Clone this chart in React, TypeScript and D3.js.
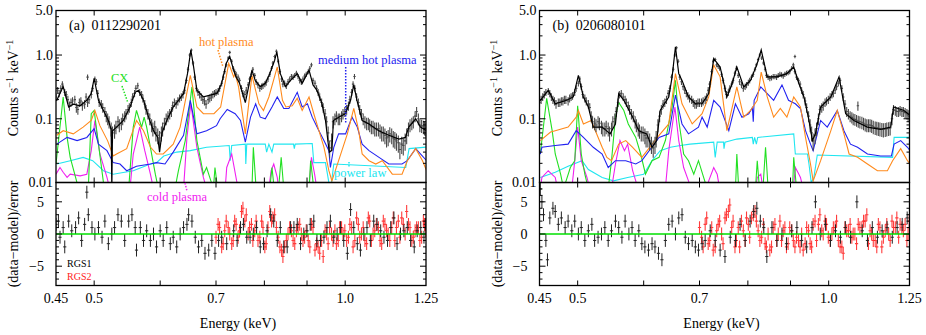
import React, { useEffect, useRef } from 'react';
import * as d3 from 'd3';

// RGS energy grid (keV) used for the binned spectra
const gridEnergy = [
  0.450, 0.454, 0.458, 0.463, 0.467, 0.471, 0.476, 0.480, 0.484, 0.489,
  0.493, 0.498, 0.503, 0.507, 0.512, 0.517, 0.521, 0.526, 0.531, 0.536,
  0.541, 0.546, 0.551, 0.556, 0.561, 0.567, 0.572, 0.577, 0.583, 0.588,
  0.593, 0.599, 0.604, 0.610, 0.616, 0.621, 0.627, 0.633, 0.639, 0.645,
  0.651, 0.657, 0.663, 0.669, 0.675, 0.681, 0.688, 0.694, 0.700, 0.707,
  0.714, 0.720, 0.727, 0.734, 0.740, 0.747, 0.754, 0.761, 0.768, 0.775,
  0.782, 0.790, 0.797, 0.804, 0.812, 0.819, 0.827, 0.835, 0.842, 0.850,
  0.858, 0.866, 0.874, 0.882, 0.890, 0.898, 0.907, 0.915, 0.924, 0.932,
  0.941, 0.950, 0.958, 0.967, 0.976, 0.985, 0.994, 1.004, 1.013, 1.022,
  1.032, 1.041, 1.051, 1.061, 1.070, 1.080, 1.090, 1.101, 1.111, 1.121,
  1.131, 1.142, 1.152, 1.163, 1.174, 1.185, 1.196, 1.207, 1.218, 1.229,
  1.241, 1.249,
];
// bins lying between the grid energies, below and above 0.7 keV
const midEnergyLow = [
  0.452, 0.456, 0.461, 0.465, 0.469, 0.474, 0.478, 0.482, 0.487, 0.491,
  0.496, 0.501, 0.505, 0.510, 0.515, 0.519, 0.524, 0.529, 0.534, 0.539,
  0.544, 0.549, 0.554, 0.559, 0.564, 0.570, 0.575, 0.580, 0.586, 0.591,
  0.596, 0.602, 0.607, 0.613, 0.619, 0.624, 0.630, 0.636, 0.642, 0.648,
  0.654, 0.660, 0.666, 0.672, 0.678, 0.685, 0.691, 0.697,
];
const midEnergyHigh = [
  0.704, 0.711, 0.717, 0.724, 0.731, 0.737, 0.744, 0.751, 0.758, 0.765,
  0.772, 0.779, 0.786, 0.794, 0.801, 0.808, 0.816, 0.823, 0.831, 0.839,
  0.846, 0.854, 0.862, 0.870, 0.878, 0.886, 0.894, 0.903, 0.911, 0.920,
  0.928, 0.937, 0.946, 0.954, 0.963, 0.972, 0.981, 0.990, 0.999, 1.009,
  1.018, 1.027, 1.037, 1.046, 1.056, 1.066, 1.075, 1.085, 1.096, 1.106,
  1.116, 1.126, 1.137, 1.147, 1.158, 1.169, 1.180, 1.191, 1.202, 1.213,
  1.224, 1.235, 1.245,
];
// RGS2 residuals start at 0.7 keV
const rgs2Start = 48;

// observed rates (counts/s/keV) on gridEnergy
const dataA = [
  0.22, 0.25, 0.35, 0.24, 0.16, 0.19, 0.15, 0.18, 0.16, 0.22,
  0.20, 0.30, 0.38, 0.18, 0.15, 0.11, 0.09, 0.06, 0.075, 0.08,
  0.10, 0.12, 0.15, 0.22, 0.30, 0.26, 0.21, 0.14, 0.10, 0.07,
  0.06, 0.05, 0.07, 0.10, 0.12, 0.16, 0.17, 0.21, 0.24, 0.40,
  1.0, 0.75, 0.30, 0.24, 0.20, 0.17, 0.21, 0.24, 0.26, 0.30,
  0.45, 0.70, 1.1, 0.62, 0.50, 0.40, 0.25, 0.28, 0.42, 0.60,
  0.38, 0.30, 0.33, 0.37, 0.50, 0.75, 1.15, 0.55, 0.35, 0.33,
  0.42, 0.45, 0.52, 0.40, 0.42, 0.50, 0.62, 0.40, 0.30, 0.22,
  0.15, 0.09, 0.035, 0.09, 0.11, 0.10, 0.12, 0.14, 0.20, 0.35,
  0.22, 0.14, 0.10, 0.085, 0.08, 0.075, 0.07, 0.065, 0.06, 0.05,
  0.058, 0.05, 0.045, 0.033, 0.038, 0.055, 0.08, 0.09, 0.13, 0.08,
  0.075, 0.07,
];
// observed rates on midEnergyLow + midEnergyHigh
const dataAmid = [
  0.28, 0.30, 0.26, 0.20, 0.18, 0.20, 0.14, 0.19, 0.17, 0.18,
  0.24, 0.42, 0.25, 0.17, 0.13, 0.10, 0.07, 0.065, 0.09, 0.085,
  0.11, 0.14, 0.18, 0.25, 0.33, 0.24, 0.17, 0.12, 0.08, 0.075,
  0.055, 0.06, 0.085, 0.11, 0.13, 0.18, 0.19, 0.22, 0.28, 0.60,
  1.2, 0.45, 0.26, 0.22, 0.19, 0.20, 0.22, 0.25, 0.27, 0.36,
  0.55, 0.90, 0.80, 0.55, 0.45, 0.30, 0.24, 0.34, 0.50, 0.48,
  0.34, 0.32, 0.35, 0.42, 0.62, 0.95, 0.80, 0.42, 0.36, 0.38,
  0.46, 0.48, 0.46, 0.38, 0.47, 0.55, 0.70, 0.36, 0.26, 0.18,
  0.12, 0.06, 0.045, 0.10, 0.10, 0.11, 0.13, 0.16, 0.26, 0.30,
  0.18, 0.12, 0.09, 0.085, 0.075, 0.07, 0.07, 0.06, 0.055, 0.052,
  0.055, 0.048, 0.042, 0.04, 0.045, 0.07, 0.085, 0.11, 0.10, 0.078,
  0.072,
];
const dataB = [
  0.18, 0.22, 0.26, 0.25, 0.20, 0.17, 0.18, 0.19, 0.20, 0.21,
  0.23, 0.30, 0.42, 0.24, 0.19, 0.15, 0.09, 0.08, 0.085, 0.07,
  0.075, 0.06, 0.09, 0.13, 0.24, 0.22, 0.18, 0.14, 0.11, 0.08,
  0.065, 0.06, 0.05, 0.045, 0.035, 0.05, 0.11, 0.17, 0.20, 0.30,
  0.60, 1.3, 0.45, 0.32, 0.25, 0.21, 0.18, 0.17, 0.18, 0.19,
  0.22, 0.35, 0.80, 0.70, 0.62, 0.40, 0.24, 0.30, 0.40, 0.62,
  0.38, 0.30, 0.34, 0.40, 0.50, 0.70, 1.0, 0.75, 0.48, 0.43,
  0.46, 0.45, 0.50, 0.47, 0.52, 0.55, 0.70, 0.45, 0.35, 0.24,
  0.15, 0.08, 0.045, 0.07, 0.14, 0.16, 0.19, 0.22, 0.25, 0.32,
  0.40, 0.22, 0.13, 0.11, 0.10, 0.095, 0.09, 0.085, 0.08, 0.08,
  0.075, 0.072, 0.07, 0.068, 0.07, 0.072, 0.14, 0.13, 0.135, 0.13,
  0.12, 0.11,
];
const dataBmid = [
  0.20, 0.24, 0.27, 0.22, 0.19, 0.18, 0.19, 0.20, 0.19, 0.22,
  0.26, 0.36, 0.32, 0.21, 0.17, 0.11, 0.085, 0.09, 0.075, 0.07,
  0.07, 0.07, 0.10, 0.18, 0.25, 0.20, 0.16, 0.12, 0.09, 0.07,
  0.06, 0.055, 0.05, 0.04, 0.04, 0.08, 0.14, 0.18, 0.25, 0.45,
  1.0, 0.80, 0.38, 0.28, 0.23, 0.20, 0.17, 0.18, 0.18, 0.20,
  0.28, 0.55, 0.85, 0.66, 0.50, 0.30, 0.26, 0.35, 0.52, 0.48,
  0.34, 0.32, 0.37, 0.45, 0.60, 0.85, 0.90, 0.60, 0.45, 0.44,
  0.46, 0.48, 0.49, 0.50, 0.53, 0.62, 0.55, 0.40, 0.28, 0.19,
  0.11, 0.06, 0.055, 0.10, 0.15, 0.18, 0.20, 0.24, 0.28, 0.36,
  0.30, 0.17, 0.12, 0.105, 0.098, 0.092, 0.088, 0.082, 0.08, 0.078,
  0.073, 0.071, 0.069, 0.069, 0.071, 0.10, 0.135, 0.13, 0.13, 0.125,
  0.115,
];
// isolated points off the grid
const extraA = [[0.491, 0.45], [1.026, 0.46]];
const extraB = [[0.911, 0.95], [1.084, 0.16]];

// model components, [energy keV, counts/s/keV]
const totalA = [
  [0.450, 0.20], [0.451, 0.195], [0.459, 0.32], [0.466, 0.153], [0.472, 0.17], [0.481, 0.16], [0.490, 0.195],
  [0.496, 0.25], [0.500, 0.43], [0.506, 0.195], [0.513, 0.135], [0.520, 0.094], [0.524, 0.068], [0.525, 0.008],
  [0.526, 0.065], [0.532, 0.074],
  [0.542, 0.094], [0.552, 0.153], [0.560, 0.26], [0.565, 0.28], [0.573, 0.195], [0.581, 0.106], [0.589, 0.065],
  [0.596, 0.051], [0.599, 0.03], [0.603, 0.06], [0.611, 0.094], [0.622, 0.153], [0.631, 0.195], [0.640, 0.25],
  [0.647, 0.51], [0.653, 1.2], [0.658, 0.65], [0.664, 0.28], [0.676, 0.22], [0.689, 0.235], [0.702, 0.25],
  [0.711, 0.36], [0.720, 0.74], [0.727, 0.95], [0.735, 0.58], [0.740, 0.45], [0.747, 0.36], [0.759, 0.18],
  [0.766, 0.32], [0.773, 0.58], [0.780, 0.40], [0.791, 0.32], [0.802, 0.36], [0.812, 0.51], [0.823, 0.83],
  [0.828, 1.12], [0.836, 0.51], [0.848, 0.32], [0.860, 0.40], [0.876, 0.51], [0.888, 0.36], [0.905, 0.58],
  [0.915, 0.34], [0.925, 0.28], [0.938, 0.172], [0.947, 0.094], [0.957, 0.03], [0.964, 0.032], [0.968, 0.094],
  [0.982, 0.106], [1.000, 0.12], [1.015, 0.195], [1.024, 0.34], [1.033, 0.195], [1.048, 0.094], [1.068, 0.083],
  [1.097, 0.065], [1.128, 0.055], [1.160, 0.048], [1.181, 0.051], [1.192, 0.074], [1.215, 0.1], [1.231, 0.074],
  [1.252, 0.065],
];
const hotA = [
  [0.451, 0.055], [0.459, 0.065], [0.472, 0.058], [0.485, 0.074], [0.496, 0.094], [0.501, 0.135], [0.508, 0.078],
  [0.519, 0.045], [0.527, 0.026], [0.532, 0.028], [0.547, 0.034], [0.562, 0.094], [0.573, 0.065], [0.584, 0.036],
  [0.594, 0.028], [0.605, 0.028], [0.622, 0.040], [0.634, 0.074], [0.652, 0.48], [0.664, 0.153], [0.676, 0.12],
  [0.696, 0.12], [0.709, 0.153], [0.725, 0.74], [0.735, 0.455], [0.738, 0.51], [0.745, 0.316], [0.759, 0.058],
  [0.773, 0.48], [0.788, 0.172], [0.798, 0.135], [0.810, 0.22], [0.829, 0.65], [0.841, 0.195], [0.849, 0.153],
  [0.864, 0.16], [0.876, 0.21], [0.888, 0.135], [0.905, 0.22], [0.917, 0.12], [0.930, 0.065], [0.943, 0.036],
  [0.956, 0.0153], [0.964, 0.0106], [0.982, 0.022], [1.006, 0.058], [1.024, 0.145], [1.038, 0.065], [1.048, 0.028],
  [1.068, 0.022], [1.088, 0.0195], [1.108, 0.022], [1.139, 0.0135], [1.170, 0.0135], [1.187, 0.022], [1.215, 0.034],
  [1.238, 0.022], [1.252, 0.0153],
];
const medA = [
  [0.451, 0.040], [0.464, 0.051], [0.477, 0.0455], [0.490, 0.051], [0.500, 0.07], [0.506, 0.040], [0.518, 0.0316],
  [0.527, 0.0205], [0.537, 0.0195], [0.547, 0.0153], [0.562, 0.018], [0.584, 0.0195], [0.594, 0.0205], [0.608, 0.0195],
  [0.622, 0.030], [0.640, 0.055], [0.652, 0.195], [0.664, 0.058], [0.682, 0.065], [0.701, 0.078], [0.708, 0.1],
  [0.722, 0.14], [0.738, 0.12], [0.749, 0.094], [0.759, 0.043], [0.770, 0.106], [0.781, 0.172], [0.791, 0.106],
  [0.802, 0.1], [0.817, 0.153], [0.829, 0.22], [0.844, 0.145], [0.856, 0.145], [0.876, 0.26], [0.888, 0.153],
  [0.901, 0.172], [0.913, 0.106], [0.930, 0.065], [0.943, 0.0455], [0.956, 0.0316], [0.960, 0.0172], [0.969, 0.0357],
  [0.982, 0.058], [1.001, 0.058], [1.019, 0.106], [1.034, 0.074], [1.048, 0.040], [1.068, 0.0316], [1.098, 0.0248],
  [1.128, 0.0195], [1.170, 0.0195], [1.187, 0.022], [1.215, 0.034], [1.252, 0.022],
];
const powA = [
  [0.451, 0.0195], [0.468, 0.022], [0.485, 0.0248], [0.498, 0.022], [0.513, 0.0153], [0.527, 0.0135], [0.557, 0.0153],
  [0.584, 0.0195], [0.594, 0.0205], [0.606, 0.026], [0.628, 0.030], [0.652, 0.0316], [0.682, 0.0357], [0.726, 0.038],
  [0.728, 0.022], [0.731, 0.038], [0.759, 0.040], [0.760, 0.0195], [0.762, 0.040], [0.802, 0.040], [0.805, 0.030],
  [0.810, 0.040], [0.817, 0.030], [0.821, 0.040], [0.867, 0.040], [0.869, 0.034], [0.871, 0.040], [0.913, 0.041],
  [0.917, 0.0205], [0.947, 0.0205], [0.956, 0.01], [0.961, 0.008], [0.969, 0.0195], [1.182, 0.0172], [1.193, 0.034],
  [1.252, 0.036],
];
const cxA = [
  [0.450, 0.0195], [0.459, 0.22], [0.464, 0.051], [0.468, 0.0248], [0.475, 0.012], [0.479, 0.008], [0.492, 0.008],
  [0.496, 0.12], [0.500, 0.135], [0.506, 0.040], [0.513, 0.01], [0.518, 0.008], [0.550, 0.008], [0.557, 0.074],
  [0.562, 0.135], [0.570, 0.074], [0.574, 0.106], [0.578, 0.074], [0.584, 0.0357], [0.592, 0.0135], [0.597, 0.008],
  [0.625, 0.008], [0.631, 0.0153], [0.643, 0.0455], [0.655, 0.316], [0.664, 0.0455], [0.670, 0.0248], [0.676, 0.0135],
  [0.682, 0.0172], [0.688, 0.012], [0.695, 0.008], [0.698, 0.0172], [0.703, 0.008], [0.773, 0.008], [0.776, 0.0357],
  [0.782, 0.008], [0.812, 0.008], [0.817, 0.0172], [0.822, 0.008], [0.832, 0.008], [0.838, 0.0248], [0.844, 0.008],
  [0.905, 0.008], [0.909, 0.022], [0.917, 0.008], [1.252, 0.008],
];
const coldA = [
  [0.450, 0.0135], [0.455, 0.0172], [0.459, 0.0145], [0.464, 0.012], [0.468, 0.0135], [0.481, 0.0127], [0.490, 0.0135],
  [0.496, 0.0316], [0.501, 0.094], [0.508, 0.028], [0.518, 0.012], [0.522, 0.008], [0.552, 0.008], [0.557, 0.028],
  [0.567, 0.074], [0.575, 0.0316], [0.584, 0.0135], [0.589, 0.008], [0.640, 0.008], [0.646, 0.051], [0.653, 0.172],
  [0.664, 0.0357], [0.676, 0.012], [0.682, 0.008], [0.718, 0.008], [0.721, 0.0172], [0.731, 0.028], [0.741, 0.0106],
  [0.745, 0.008], [0.810, 0.008], [0.815, 0.0153], [0.821, 0.0195], [0.829, 0.012], [0.832, 0.008], [0.905, 0.008],
  [0.911, 0.0248], [0.919, 0.0135], [0.925, 0.008], [1.252, 0.008],
];

const totalB = [
  [0.450, 0.19], [0.451, 0.195], [0.461, 0.28], [0.470, 0.172], [0.485, 0.195], [0.494, 0.22], [0.501, 0.48],
  [0.508, 0.22], [0.515, 0.153], [0.522, 0.074], [0.535, 0.074], [0.547, 0.058], [0.555, 0.083], [0.560, 0.248],
  [0.568, 0.195], [0.582, 0.106], [0.592, 0.065], [0.605, 0.058], [0.614, 0.0357], [0.622, 0.0455], [0.628, 0.135],
  [0.643, 0.22], [0.649, 0.455], [0.655, 1.35], [0.661, 0.51], [0.667, 0.40], [0.679, 0.22], [0.692, 0.172],
  [0.705, 0.172], [0.718, 0.248], [0.728, 0.88], [0.741, 0.65], [0.755, 0.22], [0.766, 0.357], [0.776, 0.65],
  [0.791, 0.316], [0.806, 0.40], [0.821, 0.74], [0.830, 1.2], [0.844, 0.455], [0.867, 0.455], [0.891, 0.51],
  [0.908, 0.65], [0.921, 0.357], [0.934, 0.22], [0.947, 0.094], [0.956, 0.0455], [0.964, 0.058], [0.978, 0.153],
  [1.006, 0.22], [1.029, 0.455], [1.048, 0.12], [1.072, 0.094], [1.113, 0.074], [1.154, 0.068], [1.187, 0.074],
  [1.196, 0.153], [1.231, 0.135], [1.252, 0.113],
];
const hotB = [
  [0.451, 0.0455], [0.464, 0.062], [0.470, 0.065], [0.487, 0.074], [0.498, 0.106], [0.501, 0.135], [0.508, 0.083],
  [0.519, 0.094], [0.535, 0.0357], [0.542, 0.0248], [0.549, 0.022], [0.560, 0.040], [0.571, 0.0455], [0.582, 0.0357],
  [0.597, 0.0248], [0.626, 0.055], [0.643, 0.083], [0.655, 0.51], [0.667, 0.172], [0.686, 0.083], [0.705, 0.12],
  [0.718, 0.22], [0.728, 0.70], [0.741, 0.455], [0.755, 0.065], [0.776, 0.316], [0.791, 0.106], [0.806, 0.135],
  [0.821, 0.195], [0.830, 0.54], [0.844, 0.22], [0.859, 0.106], [0.875, 0.145], [0.891, 0.106], [0.908, 0.22],
  [0.925, 0.153], [0.938, 0.051], [0.951, 0.0195], [0.958, 0.0106], [0.978, 0.022], [1.006, 0.065], [1.024, 0.135],
  [1.043, 0.058], [1.058, 0.028], [1.083, 0.0248], [1.113, 0.0195], [1.144, 0.0153], [1.176, 0.0153], [1.193, 0.022],
  [1.220, 0.034], [1.243, 0.022], [1.252, 0.0195],
];
const medB = [
  [0.451, 0.028], [0.453, 0.0357], [0.470, 0.038], [0.487, 0.040], [0.498, 0.065], [0.508, 0.051], [0.522, 0.0357],
  [0.535, 0.028], [0.544, 0.0172], [0.555, 0.022], [0.571, 0.022], [0.587, 0.0195], [0.597, 0.022], [0.626, 0.051],
  [0.643, 0.058], [0.655, 0.235], [0.667, 0.083], [0.679, 0.058], [0.698, 0.074], [0.705, 0.106], [0.715, 0.074],
  [0.728, 0.195], [0.741, 0.153], [0.759, 0.065], [0.773, 0.172], [0.787, 0.106], [0.802, 0.12], [0.810, 0.15],
  [0.812, 0.09], [0.814, 0.195], [0.829, 0.316], [0.844, 0.248], [0.859, 0.195], [0.879, 0.34], [0.895, 0.195],
  [0.912, 0.172], [0.925, 0.145], [0.938, 0.065], [0.951, 0.040], [0.958, 0.0316], [0.969, 0.058], [0.978, 0.094],
  [0.996, 0.074], [1.024, 0.135], [1.043, 0.065], [1.062, 0.040], [1.083, 0.0357], [1.113, 0.028], [1.154, 0.026],
  [1.189, 0.026], [1.198, 0.040], [1.220, 0.0455], [1.243, 0.0357], [1.252, 0.0316],
];
const powB = [
  [0.451, 0.012], [0.470, 0.0145], [0.487, 0.018], [0.506, 0.022], [0.515, 0.016], [0.535, 0.012], [0.552, 0.0106],
  [0.574, 0.012], [0.600, 0.0135], [0.614, 0.022], [0.628, 0.0316], [0.646, 0.0357], [0.664, 0.038], [0.682, 0.040],
  [0.728, 0.043], [0.731, 0.0248], [0.735, 0.043], [0.748, 0.043], [0.749, 0.034], [0.751, 0.043], [0.776, 0.048],
  [0.810, 0.051], [0.812, 0.040], [0.815, 0.051], [0.819, 0.040], [0.822, 0.051], [0.908, 0.058], [0.912, 0.028],
  [0.943, 0.028], [0.947, 0.0195], [0.953, 0.01], [0.960, 0.012], [0.969, 0.027], [1.193, 0.0248], [1.198, 0.051],
  [1.252, 0.051],
];
const cxB = [
  [0.451, 0.028], [0.459, 0.21], [0.466, 0.065], [0.470, 0.028], [0.477, 0.0135], [0.481, 0.008], [0.490, 0.0172],
  [0.496, 0.022], [0.500, 0.16], [0.505, 0.028], [0.510, 0.0135], [0.515, 0.008], [0.544, 0.008], [0.549, 0.022],
  [0.555, 0.106], [0.560, 0.18], [0.568, 0.135], [0.575, 0.083], [0.587, 0.051], [0.595, 0.028], [0.603, 0.0135],
  [0.614, 0.022], [0.626, 0.0248], [0.637, 0.0455], [0.649, 0.153], [0.655, 0.40], [0.661, 0.094], [0.670, 0.028],
  [0.679, 0.022], [0.689, 0.0135], [0.698, 0.022], [0.708, 0.012], [0.715, 0.008], [0.773, 0.008], [0.776, 0.028],
  [0.780, 0.008], [0.817, 0.008], [0.821, 0.022], [0.826, 0.008], [0.834, 0.008], [0.840, 0.0357], [0.846, 0.008],
  [0.905, 0.008], [0.908, 0.0248], [0.915, 0.008], [1.252, 0.008],
];
const coldB = [
  [0.451, 0.008], [0.453, 0.012], [0.461, 0.0153], [0.470, 0.012], [0.473, 0.008], [0.492, 0.008], [0.496, 0.022],
  [0.500, 0.074], [0.505, 0.022], [0.513, 0.012], [0.517, 0.008], [0.549, 0.008], [0.555, 0.0195], [0.562, 0.0455],
  [0.569, 0.0316], [0.574, 0.040], [0.582, 0.0153], [0.587, 0.0106], [0.590, 0.008], [0.637, 0.008], [0.643, 0.0316],
  [0.654, 0.153], [0.661, 0.0455], [0.670, 0.0172], [0.679, 0.0106], [0.684, 0.008], [0.715, 0.008], [0.718, 0.0106],
  [0.728, 0.0172], [0.735, 0.0135], [0.740, 0.008], [0.817, 0.008], [0.821, 0.012], [0.829, 0.0135], [0.834, 0.008],
  [0.907, 0.008], [0.912, 0.0172], [0.921, 0.0135], [0.925, 0.012], [0.932, 0.008], [1.252, 0.008],
];

// residuals (data-model)/error, RGS1: [energy, sigma]
const resA1 = [
  [0.450, 1.5], [0.453, 2], [0.455, -0.5], [0.459, 1], [0.461, -2], [0.466, 2], [0.470, 0.5], [0.475, 1], [0.479, 2.5],
  [0.483, -1], [0.487, 1.5], [0.490, 6.5], [0.492, 3], [0.497, 1], [0.501, 0], [0.506, 1], [0.511, -0.5], [0.515, 2],
  [0.520, -1.5], [0.525, 0], [0.529, 1], [0.534, 3], [0.539, 2], [0.544, -1], [0.550, 2], [0.555, 3], [0.560, 1],
  [0.562, -2.5], [0.568, 1], [0.573, -1], [0.578, 0.5], [0.584, -1], [0.589, 0], [0.594, -2], [0.600, 0.5], [0.605, -1],
  [0.611, 1], [0.617, -1.5], [0.622, -0.5], [0.628, -2], [0.634, 0], [0.640, 1], [0.646, 1.5], [0.649, 3], [0.655, 2],
  [0.661, -0.5], [0.667, -2], [0.673, -1], [0.679, -3], [0.686, -2.5], [0.692, -1], [0.698, -3], [0.705, -1],
  [0.711, -0.5], [0.721, -1.5], [0.735, 0.5], [0.742, -1], [0.749, 1], [0.755, 1.5], [0.762, -0.5], [0.769, -0.5],
  [0.776, 0], [0.783, 1], [0.791, -2], [0.798, -1.5], [0.806, 0.5], [0.814, 3], [0.821, 2], [0.829, -1], [0.836, 1],
  [0.844, -2], [0.852, -2], [0.860, 1], [0.868, 1], [0.876, 1.5], [0.884, -1.5], [0.892, 0], [0.900, 0.5], [0.908, 1.5],
  [0.917, 2], [0.925, -1], [0.934, -1], [0.943, -0.5], [0.951, 1], [0.960, 2], [0.969, -0.5], [0.978, 0], [0.987, 1],
  [0.996, -1], [1.006, -3], [1.015, 3.8], [1.024, 1], [1.034, -1.5], [1.043, -2.5], [1.053, 0], [1.062, 1], [1.072, -1],
  [1.082, 2], [1.092, 1.5], [1.103, 0.5], [1.113, -0.5], [1.124, -1], [1.134, 1], [1.144, 2.5], [1.154, -1.5],
  [1.165, 0], [1.176, 0.5], [1.187, 1], [1.198, -1], [1.210, -2], [1.220, 0.5], [1.232, 1], [1.243, -0.5], [1.248, 1.5],
];
const resB1 = [
  [0.451, 7], [0.453, 5], [0.455, 3], [0.458, -1], [0.460, -4], [0.463, 2.5], [0.467, 4], [0.470, 3.5], [0.474, 1.5],
  [0.478, 2.5], [0.483, 1], [0.487, 2], [0.492, 0.5], [0.496, 2], [0.501, 0], [0.505, 1], [0.510, -1], [0.515, 0.5],
  [0.520, 1.5], [0.524, -1], [0.529, -0.5], [0.534, 0], [0.539, 1], [0.544, -1], [0.549, 0.5], [0.555, 2], [0.560, 1],
  [0.565, -0.5], [0.570, 2], [0.576, 0], [0.581, 1], [0.586, -1], [0.592, 0.5], [0.597, -1.5], [0.602, -2], [0.608, -2.5],
  [0.614, -1.5], [0.619, -2], [0.625, -3], [0.631, -4], [0.637, -1], [0.643, 1.5], [0.649, 2], [0.655, 0], [0.661, 2.5],
  [0.667, 3], [0.673, -0.5], [0.679, -1.5], [0.686, -1], [0.692, -2], [0.698, -2.5], [0.705, -1.5], [0.711, -1],
  [0.721, 0.5], [0.731, -1], [0.741, -2.5], [0.751, -3.5], [0.762, -0.5], [0.773, -1], [0.783, 1.5], [0.794, -1],
  [0.805, 2], [0.813, 3.5], [0.820, 4], [0.828, 2], [0.836, 1], [0.843, -3.5], [0.855, 1], [0.867, -1], [0.879, 0],
  [0.890, -1.5], [0.903, 0.5], [0.916, 1], [0.928, -1], [0.941, -2], [0.955, 1], [0.964, 5], [0.977, 0], [0.991, 1.5],
  [1.005, -1], [1.019, 0.5], [1.033, -0.5], [1.047, 1], [1.062, -0.5], [1.081, 5], [1.097, 0.5], [1.113, -1],
  [1.128, 1], [1.144, -0.5], [1.159, 0.5], [1.175, 1], [1.192, -0.5], [1.208, 1], [1.225, 1.5], [1.242, 2.5],
];
// RGS2 residuals on gridEnergy from 0.70 keV
const resA2 = [
  -0.5, 1, -1.5, 2, 0, -1, 1.5, 0.5, 4, 3,
  1, -1, 2, -0.5, 1, -1.5, 3.5, 2.5, 1, -2,
  -3.5, -1, 1, -1, 0.5, 1.5, -1, 0.5, -2, 1,
  -1.5, -3, -3.5, 0, 1, -1, -1.5, 1, 0, -1,
  1.5, -2, 2.5, -0.5, 1, -1.5, 2, 0, 1.5, -1,
  2, 0.5, -1, 2.5, 1, -0.5, 1.5, 3.5, 1, -0.5,
  1, -1, 2, 0.5,
];
const resB2 = [
  1, -2, 2.5, -1, -2.5, 0.5, 2, -1.5, 3, 4.5,
  2, -1, -2, 0.5, 2.5, -0.5, 3, 2, -1, 1.5,
  -2, -2.5, 1, -1, 2, 0.5, -2, 1, -1, -0.5,
  -2, -2.5, 1, -1.5, 1.5, -1, 3, 0, 1.5, -1,
  1, 2, -2, -3, 0.5, 1.5, 0, -1.5, 1, 2,
  3, 0.5, -1, -2, 1, -0.5, 1.5, -1, 1, 2.5,
  1.5, 0.5, -1, 2,
];
// RGS2 residuals on midEnergyHigh
const resA2mid = [
  1.5, -2, 0.5, 1, -1.5, 2, -0.5, 3.5, 2,
  0, 1.5, 0.5, -1, 2, -2, 1, 2, 3, -0.5,
  -2.5, -2, 0, 0.5, -1.5, 1, 0, -0.5, -1, 1.5,
  -2.5, -2, -1, 0.5, -1.5, 0, 0.5, -1, 1, 0.5,
  -0.5, 1, -1, 1.5, 0, -1, 2.5, -1, 0.5, 1,
  -1.5, 1.5, 0, 1, -1, 2, 2.5, 0, 1.5, -1,
  0.5, 1, -0.5, 1.5,
];
const resB2mid = [
  -0.5, 1.5, -1.5, 1, -2, 1.5, 0, 2.5, 3.5,
  1, -2, 1, 2, -1, 1.5, 2.5, 3.5, 0.5, -0.5,
  -1.5, 0, -2, 1.5, 0, -1, 1, -1.5, 0.5, -2,
  -1, 0, -1.5, 0.5, -2, 2, 1.5, 0.5, 2, -0.5,
  0, 1, -1, -2, 1, 0.5, -0.5, 0, 1.5, 1,
  2, -1.5, 0, -1, 1.5, -2, 0.5, 0, 2, 1,
  -0.5, 1, 1.5, 0,
];

const energyTicks = [0.5, 0.6, 0.7, 0.8, 0.9, 1.0];
const energyLabels = [0.45, 0.5, 0.7, 1.0, 1.25];
const countLabels = [0.01, 0.1, 1.0, 5.0];
const residLabels = [-5, 0, 5];

const FONT = "'Liberation Serif', 'DejaVu Serif', serif";
const PW = 370;
const TOP = 10.5;
const MID = 182.5;
const BOTTOM = 285.5;

const colors = {
  hot: '#ff8a1c',
  med: '#2222f0',
  cx: '#22e022',
  cold: '#f020f0',
  pow: '#20e6f0',
  rgs2: '#ff1a1a',
};

const panels = [
  {
    left: 56, tag: '(a)\u00a0\u00a00112290201', data: dataA, dataMid: dataAmid, extra: extraA, total: totalA,
    hot: hotA, med: medA, cx: cxA, cold: coldA, pow: powA,
    res1: resA1, res2: resA2, res2mid: resA2mid, notes: true,
  },
  {
    left: 539.5, tag: '(b)\u00a0\u00a00206080101', data: dataB, dataMid: dataBmid, extra: extraB, total: totalB,
    hot: hotB, med: medB, cx: cxB, cold: coldB, pow: powB,
    res1: resB1, res2: resB2, res2mid: resB2mid, notes: false,
  },
];

// rough Poisson-like error bar size for the plotted rates
const relErr = (v: number) => Math.min(0.3, 0.065 / Math.sqrt(v));

function fmt(v: number) {
  if (v === 0.01) return '0.01';
  if (v === 0.1) return '0.1';
  return v.toFixed(1);
}

function txt(g: any, size: number) {
  return g.append('text')
    .style('font-family', FONT)
    .style('font-size', `${size}px`);
}

function drawPanel(svg: any, p: any, i: number) {
  const x = d3.scaleLog().domain([0.45, 1.25]).range([p.left, p.left + PW]);
  const y = d3.scaleLog().domain([0.01, 5]).range([MID, TOP]);
  const r = d3.scaleLinear().domain([-8, 8]).range([BOTTOM, MID]);
  const right = p.left + PW;

  const g = svg.append('g');
  const defs = g.append('defs');
  defs.append('clipPath').attr('id', `up${i}`).append('rect')
    .attr('x', p.left).attr('y', TOP).attr('width', PW).attr('height', MID - TOP);
  defs.append('clipPath').attr('id', `rs${i}`).append('rect')
    .attr('x', p.left).attr('y', MID).attr('width', PW).attr('height', BOTTOM - MID);

  // spectrum
  const line = d3.line<number[]>()
    .x(d => x(d[0]))
    .y(d => y(Math.max(d[1], 0.004)));
  const up = g.append('g').attr('clip-path', `url(#up${i})`);
  const comps: [string, number[][]][] = [
    ['pow', p.pow], ['cold', p.cold], ['cx', p.cx], ['med', p.med], ['hot', p.hot],
  ];
  comps.forEach(([k, d]) => {
    up.append('path').datum(d).attr('d', line)
      .attr('fill', 'none').attr('stroke', (colors as any)[k]).attr('stroke-width', 1.1);
  });

  const midEnergy = midEnergyLow.concat(midEnergyHigh);
  const pts = gridEnergy.map((e, k) => [e, p.data[k]])
    .concat(midEnergy.map((e, k) => [e, p.dataMid[k]]))
    .concat(p.extra);
  up.selectAll('path.pt').data(pts).join('path')
    .attr('class', 'pt')
    .attr('d', (d: number[]) => {
      const cx = x(d[0]);
      const f = relErr(d[1]);
      return `M${cx - 1.2},${y(d[1])}H${cx + 1.2}M${cx},${y(d[1] * (1 + f))}V${y(d[1] * (1 - f))}`;
    })
    .attr('stroke', '#4a4a4a').attr('stroke-width', 1.1).attr('fill', 'none');

  up.append('path').datum(p.total).attr('d', line)
    .attr('fill', 'none').attr('stroke', '#000').attr('stroke-width', 1.2);

  // residuals
  const rs = g.append('g').attr('clip-path', `url(#rs${i})`);
  const cross = (d: number[]) => {
    const cx = x(d[0]);
    return `M${cx - 1.6},${r(d[1])}H${cx + 1.6}M${cx},${r(d[1] + 1)}V${r(d[1] - 1)}`;
  };
  const red = gridEnergy.slice(rgs2Start).map((e, k) => [e, p.res2[k]])
    .concat(midEnergyHigh.map((e, k) => [e, p.res2mid[k]]));
  rs.selectAll('path.r2').data(red).join('path')
    .attr('class', 'r2').attr('d', cross)
    .attr('stroke', colors.rgs2).attr('stroke-opacity', 0.85).attr('stroke-width', 1.1).attr('fill', 'none');
  rs.selectAll('path.r1').data(p.res1).join('path')
    .attr('class', 'r1').attr('d', cross)
    .attr('stroke', '#222').attr('stroke-width', 1).attr('fill', 'none');
  rs.append('line')
    .attr('x1', p.left).attr('x2', right).attr('y1', r(0)).attr('y2', r(0))
    .attr('stroke', '#00e000').attr('stroke-width', 1.5);

  // frames
  [[TOP, MID], [MID, BOTTOM]].forEach(([a, b]) => {
    g.append('rect').attr('x', p.left).attr('y', a).attr('width', PW).attr('height', b - a)
      .attr('fill', 'none').attr('stroke', '#000').attr('stroke-width', 1.3);
  });

  // ticks
  const tk = g.append('g').attr('stroke', '#000').attr('stroke-width', 1);
  y.ticks().forEach((v: number) => {
    const major = Math.abs(Math.log10(v) - Math.round(Math.log10(v))) < 1e-6;
    const len = major ? 6 : 3;
    tk.append('line').attr('x1', p.left).attr('x2', p.left + len).attr('y1', y(v)).attr('y2', y(v));
    tk.append('line').attr('x1', right).attr('x2', right - len).attr('y1', y(v)).attr('y2', y(v));
  });
  r.ticks(16).forEach((v: number) => {
    if (v <= -8 || v >= 8) return;
    const len = v % 5 === 0 ? 6 : 3;
    tk.append('line').attr('x1', p.left).attr('x2', p.left + len).attr('y1', r(v)).attr('y2', r(v));
    tk.append('line').attr('x1', right).attr('x2', right - len).attr('y1', r(v)).attr('y2', r(v));
  });
  energyTicks.forEach(v => {
    [[TOP, 1], [MID, -1], [MID, 1], [BOTTOM, -1]].forEach(([yy, dir]) => {
      tk.append('line').attr('x1', x(v)).attr('x2', x(v)).attr('y1', yy).attr('y2', yy + dir * 5);
    });
  });

  // tick labels
  countLabels.forEach(v => {
    txt(g, 14).attr('x', p.left - 3).attr('y', y(v)).attr('dy', '0.35em')
      .attr('text-anchor', 'end').text(fmt(v));
  });
  residLabels.forEach(v => {
    txt(g, 14).attr('x', p.left - 12).attr('y', r(v)).attr('dy', '0.35em')
      .attr('text-anchor', 'end').text(v < 0 ? `\u2212${-v}` : `${v}`);
  });
  energyLabels.forEach(v => {
    txt(g, 14).attr('x', x(v)).attr('y', 303).attr('text-anchor', 'middle')
      .text(v === 0.45 || v === 1.25 ? `${v}` : v.toFixed(1));
  });

  // axis titles
  txt(g, 14).attr('x', p.left + 182).attr('y', 327.5).attr('text-anchor', 'middle').text('Energy (keV)');
  const t = txt(g, 14).attr('transform', `translate(${p.left - 38},88) rotate(-90)`)
    .attr('text-anchor', 'middle');
  t.append('tspan').text('Counts s');
  t.append('tspan').attr('dy', -5).style('font-size', '10px').text('\u22121');
  t.append('tspan').attr('dy', 5).text(' keV');
  t.append('tspan').attr('dy', -5).style('font-size', '10px').text('\u22121');
  txt(g, 14).attr('transform', `translate(${p.left - 38},234) rotate(-90)`)
    .attr('text-anchor', 'middle').text('(data\u2212model)/error');

  txt(g, 14).attr('x', p.left + 13).attr('y', 30).text(p.tag);

  if (!p.notes) return;

  const notes = [
    { text: 'hot plasma', c: colors.hot, tx: 199, ty: 45.5, l: [218, 50, 223, 67] },
    { text: 'CX', c: colors.cx, tx: 111, ty: 82, l: [122, 86, 128, 103] },
    { text: 'medium hot plasma', c: colors.med, tx: 318, ty: 64, l: [345.7, 67, 345.7, 123] },
    { text: 'power law', c: colors.pow, tx: 334, ty: 177, l: [349, 162, 349, 168] },
    { text: 'cold plasma', c: colors.cold, tx: 147, ty: 200.5, l: [185, 183, 187, 191] },
  ];
  notes.forEach(n => {
    txt(g, 12.5).attr('x', n.tx).attr('y', n.ty).attr('fill', n.c).text(n.text);
    g.append('line').attr('x1', n.l[0]).attr('y1', n.l[1]).attr('x2', n.l[2]).attr('y2', n.l[3])
      .attr('stroke', n.c).attr('stroke-width', 1.5).attr('stroke-dasharray', '1.5,1.5');
  });
  txt(g, 10).attr('x', 67).attr('y', 267).text('RGS1');
  txt(g, 10).attr('x', 67).attr('y', 280).attr('fill', colors.rgs2).text('RGS2');
}

const App = () => {
  const svgRef = useRef<SVGSVGElement>(null);

  useEffect(() => {
    const svg = d3.select(svgRef.current);
    svg.selectAll('*').remove();
    panels.forEach((p, i) => drawPanel(svg, p, i));
  }, []);

  return (
    <svg
      ref={svgRef}
      width={926}
      height={335}
      style={{ position: 'absolute', left: 0, top: 0, background: '#fff' }}
    />
  );
};

export default App;
